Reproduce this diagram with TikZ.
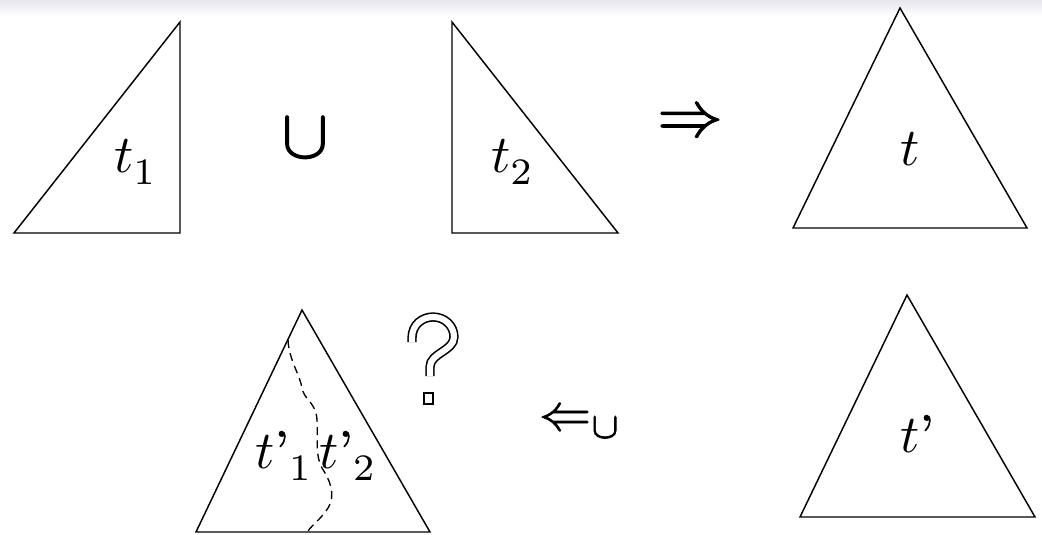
\documentclass[tikz,border=0pt]{standalone}
\usetikzlibrary{calc}
\newcommand\heavy[2]{\special{pdf:literal direct 2 Tr #1 w}#2\special{pdf:literal direct 0 Tr}}
\newcommand\lowsub[1]{_{\lower0.8pt\hbox{$\scriptstyle#1$}}}
\begin{document}
\begin{tikzpicture}[x=0.75pt,y=-0.75pt,
  tri/.style={draw=black,line width=1.1pt,line join=miter},
  lab/.style={inner sep=0pt,scale=4},
  sym/.style={inner sep=0pt},
  cutline/.style={draw=black,line width=1pt,dash pattern=on 6pt off 4pt}]
\useasboundingbox (0,0) rectangle (1042,535);
\shade[top color={rgb,255:red,230;green,230;blue,238},bottom color=white] (0,0) rectangle (1042,16);
% top row
\draw[tri] (14,233) -- (180,22) -- (180,233) -- cycle;
\node[lab,anchor=base west] (t1) at (113,172) {$t\lowsub{1}$};
\node[sym,scale=5.2] (cup) at (305,138) {\heavy{0.17}{$\cup$}};
\draw[tri] (452,22) -- (452,233) -- (618,233) -- cycle;
\node[lab,anchor=base west] (t2) at (490,172) {$t\lowsub{2}$};
\node[sym,scale=4.9] (impl) at (690,124) {\heavy{0.15}{$\Rightarrow$}};
\draw[tri] (900,8) -- (793,228) -- (1027,228) -- cycle;
\node[lab,anchor=base west] (t) at (899,165) {$t$};
% bottom row
\draw[tri] (302,310) -- (196,532) -- (430,532) -- cycle;
\draw[cutline] (288,340) .. controls (289,360) and (300,375) .. (302,388)
  .. controls (304,400) and (316,402) .. (317,420)
  .. controls (318,440) and (315,455) .. (322,468)
  .. controls (330,480) and (336,495) .. (328,508)
  .. controls (322,518) and (312,525) .. (308,531);
\node[lab,anchor=base west] (tp1) at (254,468) {$t\mbox{\heavy{0.1}{'}}{}\lowsub{1}$};
\node[lab,anchor=base west] (tp2) at (318,468) {$t\mbox{\heavy{0.1}{'}}{}\lowsub{2}$};
% outlined question mark
\draw[line width=1.2pt,double=white,double distance=4.6pt,line cap=butt]
  (412,342) -- (412,338) .. controls (412,324) and (423,317) .. (433,317)
  .. controls (445,317) and (454,326) .. (454,337)
  .. controls (454,351) and (430,353) .. (430,367) -- (430,376);
\draw[line width=1.2pt] (424,393) rectangle (433,404);
\node[sym,anchor=base west,scale=3.9] (impr) at (538,430) {\heavy{0.12}{$\Leftarrow_\cup$}};
\draw[tri] (907,295) -- (800,517) -- (1035,517) -- cycle;
\node[lab,anchor=base west] (tp) at (899,452) {$t\mbox{\heavy{0.1}{'}}$};
\end{tikzpicture}
\end{document}
